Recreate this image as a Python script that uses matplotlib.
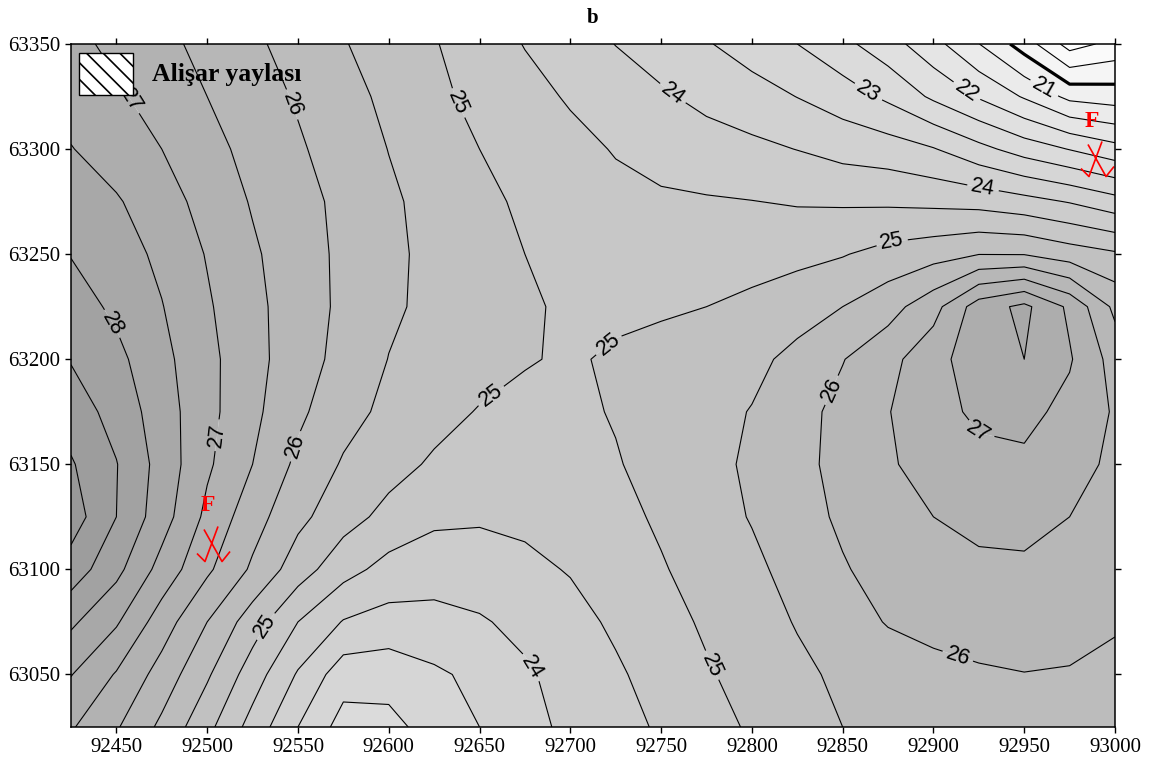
import numpy as np
import matplotlib
matplotlib.use("Agg")
import matplotlib.pyplot as plt
from matplotlib.patches import Rectangle
from matplotlib.path import Path

# ---------------- data ----------------
easting = [92425, 92450, 92475, 92500, 92525, 92550, 92575, 92600, 92625, 92650, 92675, 92700,
           92725, 92750, 92775, 92800, 92825, 92850, 92875, 92900, 92925, 92950, 92975, 93000]
northing = [63350, 63325, 63300, 63275, 63250, 63225, 63200, 63175, 63150, 63125, 63100, 63075, 63050, 63025]

row_63350 = [27.15, 26.87, 26.62, 26.37, 26.09, 25.81, 25.53, 25.27, 25.03, 24.76, 24.48, 24.24, 23.99, 23.77, 23.54, 23.27, 23.00, 22.63, 22.21, 21.67, 21.01, 20.27, 19.30, 19.65]
row_63325 = [27.30, 27.08, 26.78, 26.50, 26.22, 25.95, 25.67, 25.39, 25.11, 24.87, 24.66, 24.45, 24.26, 24.07, 23.86, 23.71, 23.49, 23.25, 22.90, 22.41, 21.95, 21.45, 20.87, 20.76]
row_63300 = [27.52, 27.26, 27.00, 26.66, 26.35, 26.06, 25.78, 25.49, 25.25, 25.00, 24.82, 24.64, 24.47, 24.33, 24.23, 24.11, 23.99, 23.83, 23.74, 23.53, 23.15, 22.78, 22.48, 22.17]
row_63275 = [27.76, 27.55, 27.21, 26.83, 26.46, 26.17, 25.88, 25.58, 25.34, 25.12, 24.92, 24.76, 24.63, 24.57, 24.54, 24.51, 24.46, 24.44, 24.42, 24.38, 24.32, 24.17, 23.97, 23.69]
row_63250 = [27.98, 27.73, 27.39, 26.97, 26.57, 26.22, 25.90, 25.60, 25.38, 25.18, 25.00, 24.85, 24.75, 24.76, 24.78, 24.81, 24.86, 24.97, 25.17, 25.31, 25.49, 25.48, 25.25, 25.07]
row_63225 = [28.23, 27.90, 27.52, 27.06, 26.63, 26.25, 25.90, 25.58, 25.38, 25.22, 25.06, 24.93, 24.91, 24.95, 25.00, 25.11, 25.30, 25.50, 25.80, 26.32, 27.25, 27.62, 26.90, 25.88]
row_63200 = [28.47, 28.13, 27.64, 27.14, 26.66, 26.23, 25.84, 25.49, 25.34, 25.19, 25.03, 24.95, 25.06, 25.13, 25.23, 25.38, 25.63, 25.98, 26.35, 26.81, 27.30, 27.50, 27.05, 26.30]
row_63175 = [28.76, 28.32, 27.74, 27.15, 26.62, 26.10, 25.68, 25.38, 25.17, 24.97, 24.89, 24.91, 25.03, 25.19, 25.35, 25.52, 25.82, 26.15, 26.48, 26.82, 27.10, 27.15, 26.85, 26.45]
row_63150 = [29.05, 28.52, 27.81, 27.08, 26.50, 25.89, 25.45, 25.18, 24.93, 24.79, 24.75, 24.84, 24.97, 25.15, 25.35, 25.58, 25.86, 26.15, 26.44, 26.70, 26.85, 26.90, 26.72, 26.38]
row_63125 = [29.25, 28.50, 27.72, 26.88, 26.21, 25.63, 25.20, 24.85, 24.60, 24.56, 24.60, 24.70, 24.86, 25.07, 25.29, 25.53, 25.81, 26.08, 26.31, 26.50, 26.63, 26.65, 26.50, 26.28]
row_63100 = [28.78, 28.14, 27.32, 26.59, 25.92, 25.24, 24.68, 24.33, 24.22, 24.26, 24.39, 24.53, 24.73, 24.96, 25.19, 25.39, 25.68, 25.96, 26.18, 26.31, 26.40, 26.42, 26.37, 26.17]
row_63075 = [28.09, 27.56, 26.75, 26.00, 25.24, 24.50, 23.97, 23.81, 23.84, 23.95, 24.13, 24.34, 24.58, 24.82, 25.07, 25.30, 25.53, 25.79, 26.03, 26.11, 26.18, 26.21, 26.15, 26.04]
row_63050 = [27.52, 26.96, 26.30, 25.57, 24.75, 23.95, 23.22, 23.20, 23.42, 23.62, 23.93, 24.19, 24.43, 24.69, 24.95, 25.18, 25.40, 25.59, 25.74, 25.89, 25.95, 25.99, 25.97, 25.90]
row_63025 = [27.05, 26.55, 25.89, 25.14, 24.31, 23.50, 22.80, 22.85, 23.20, 23.50, 23.84, 24.11, 24.33, 24.56, 24.82, 25.06, 25.28, 25.50, 25.60, 25.70, 25.78, 25.80, 25.80, 25.78]

label_values = [27, 26, 25, 24, 23, 22, 21, 24, 25, 28, 25, 25, 26, 27, 26, 27, 25, 24, 25, 26]
label_easting = [92457, 92546, 92636, 92755, 92864, 92917, 92959, 92928, 92876, 92446,
                 92719, 92656, 92842, 92504, 92547, 92921, 92532, 92678, 92777, 92909]
label_northing = [63323, 63321, 63321, 63325, 63327, 63326, 63326, 63285, 63264, 63216,
                  63209, 63183, 63186, 63164, 63159, 63163, 63073, 63053, 63054, 63047]

fault_easting = [92502, 92989]
fault_northing = [63113, 63296]
fault_label = ["F", "F"]

legend_text = "Alişar yaylası"
title_text = "b"

# ---------------- figure ----------------
plt.rcParams['font.family'] = ['Liberation Serif', 'DejaVu Serif']
plt.rcParams['hatch.linewidth'] = 1.2

fig = plt.figure(figsize=(11.57, 7.65), dpi=100)
ax = fig.add_axes([71/1157, 38/765, 1044/1157, 683/765])

Z = np.array([row_63350, row_63325, row_63300, row_63275, row_63250, row_63225, row_63200,
              row_63175, row_63150, row_63125, row_63100, row_63075, row_63050, row_63025])[::-1]
E = np.array(easting)
N = np.array(northing)[::-1]

fill_levels = np.arange(19.0, 29.51, 0.5)
mids = fill_levels[:-1] + 0.25
gray = np.clip(250 - (mids - 19.75) * 10.3, 0, 255) / 255.0
fill_colors = [(g, g, g) for g in gray]
ax.contourf(E, N, Z, levels=fill_levels, colors=fill_colors, antialiased=True)

half_levels = np.arange(19.5, 29.01, 1.0)
half_widths = [2.3 if abs(l - 20.5) < 1e-6 else 0.8 for l in half_levels]
ax.contour(E, N, Z, levels=half_levels, colors='black', linewidths=half_widths)

int_levels = np.arange(20.0, 29.01, 1.0)
cs = ax.contour(E, N, Z, levels=int_levels, colors='black', linewidths=0.8)

with plt.rc_context({'font.family': ['Liberation Sans', 'DejaVu Sans']}):
    texts = ax.clabel(cs, manual=list(zip(label_easting, label_northing)),
                      fmt=lambda v: f"{v:.0f}", fontsize=15.5, inline=True, inline_spacing=4,
                      colors='black')

# fault symbols
verts = [(-7.5, 13), (10.5, -19), (18.5, -9), (6.5, 16), (-6.5, -19), (-14.5, -11)]
codes = [Path.MOVETO, Path.LINETO, Path.LINETO, Path.MOVETO, Path.LINETO, Path.LINETO]
fault_marker = Path(verts, codes)
ax.plot(fault_easting, fault_northing, linestyle='none', marker=fault_marker,
        markersize=27.4, markeredgecolor='red', markerfacecolor='none', markeredgewidth=1.2)
for fx, fy, fl in zip(fault_easting, fault_northing, fault_label):
    ax.annotate(fl, xy=(fx, fy), xytext=(-2, 26), textcoords='offset points', ha='center',
                va='center', color='red', fontsize=17, fontweight='bold')

# legend box
ax.add_patch(Rectangle((8/1044, 632/683), 54/1044, 42/683, transform=ax.transAxes,
                       facecolor='white', edgecolor='black', hatch='\\\\', linewidth=1.0, zorder=5))
ax.text(81/1044, 652/683, legend_text, transform=ax.transAxes, ha='left', va='center',
        fontsize=18.5, fontweight='bold', zorder=5)

ax.set_xlim(92425, 93000)
ax.set_ylim(63025, 63350)
ax.set_xticks(np.arange(92450, 93001, 50))
ax.set_yticks(np.arange(63050, 63351, 50))
ax.tick_params(direction='out', length=4, width=1, top=True, right=True,
               labeltop=False, labelright=False, labelsize=15, pad=4)
for sp in ax.spines.values():
    sp.set_linewidth(1.1)
ax.set_title(title_text, fontweight='bold', fontsize=15, pad=15)

fig.savefig("out.png", dpi=100)
